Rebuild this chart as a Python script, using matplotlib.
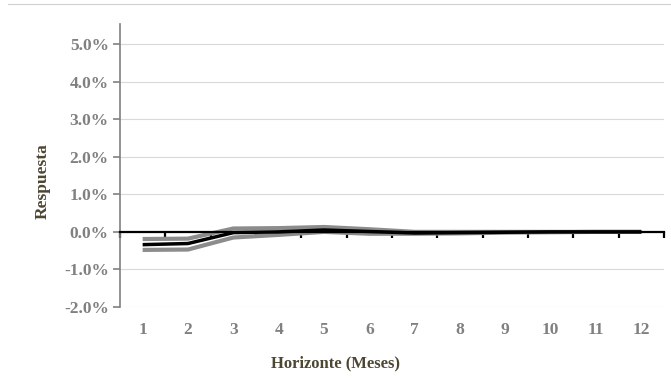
import numpy as np
import matplotlib.pyplot as plt
from matplotlib.lines import Line2D
from matplotlib.ticker import FuncFormatter

# horizonte en meses y respuesta (%)
meses = [1, 2, 3, 4, 5, 6, 7, 8, 9, 10, 11, 12]
respuesta = [-0.34, -0.31, -0.02, 0.00, 0.05, 0.01, -0.03, -0.02, -0.01, 0.00, 0.00, 0.00]
banda_sup = [-0.19, -0.18, 0.09, 0.10, 0.13, 0.07, 0.00, 0.00, 0.00, 0.00, 0.00, 0.00]
banda_inf = [-0.48, -0.47, -0.15, -0.08, 0.00, -0.05, -0.05, -0.04, -0.02, -0.01, 0.00, 0.00]
y_ticks = [-2, -1, 0, 1, 2, 3, 4, 5]

plt.rcParams['font.family'] = ['Liberation Serif', 'DejaVu Serif']
plt.rcParams['font.weight'] = 'bold'

tick_col = '#808080'
lab_col = '#4d4633'

fig = plt.figure(figsize=(6.71, 3.83), dpi=100)
ax = fig.add_axes([0.1788, 0.1984, 0.8108, 0.7386])

ax.plot(meses, banda_sup, color='#8c8c8c', lw=3, solid_capstyle='butt', zorder=3)
ax.plot(meses, banda_inf, color='#8c8c8c', lw=3, solid_capstyle='butt', zorder=3)
ax.plot(meses, respuesta, color='black', lw=2.5, solid_capstyle='butt', zorder=4)

ax.set_xlim(0.5, 12.5)
ax.set_ylim(-2, 5.53)
ax.set_yticks(y_ticks)
ax.yaxis.set_major_formatter(FuncFormatter(lambda v, p: f'{v:.1f}%'))
ax.grid(axis='y', color='#d9d9d9', lw=0.8)
ax.set_axisbelow(True)

for s in ['top', 'right']:
    ax.spines[s].set_visible(False)
ax.spines['left'].set_color(tick_col)
ax.spines['left'].set_linewidth(1.2)
ax.spines['bottom'].set_position(('data', 0))
ax.spines['bottom'].set_color('black')
ax.spines['bottom'].set_linewidth(1.6)
ax.spines['bottom'].set_zorder(5)

ax.tick_params(axis='y', colors=tick_col, direction='out', length=5, width=1.2,
               labelsize=12.5, pad=3)
ax.set_xticks(np.arange(0.5, 13, 1))
ax.set_xticklabels([])
ax.tick_params(axis='x', colors='black', direction='out', length=4, width=1.6)

sec = ax.secondary_xaxis('bottom')
sec.set_xticks(meses)
sec.set_xticklabels([str(m) for m in meses])
sec.spines['bottom'].set_visible(False)
sec.tick_params(axis='x', length=0, colors=tick_col, labelsize=12.5, pad=11)

ax.set_xlabel('Horizonte (Meses)', color=lab_col, fontsize=12, fontweight='bold')
ax.xaxis.set_label_coords(0.397, -0.17)

ax.set_ylabel('Respuesta', color=lab_col, fontsize=12.5, fontweight='bold')
ax.yaxis.set_label_coords(-0.127, 0.445)

fig.add_artist(Line2D([0.012, 1.0], [0.99, 0.99], transform=fig.transFigure,
                      color='#d0d0d0', lw=0.8))

fig.savefig('out.png', dpi=100)
